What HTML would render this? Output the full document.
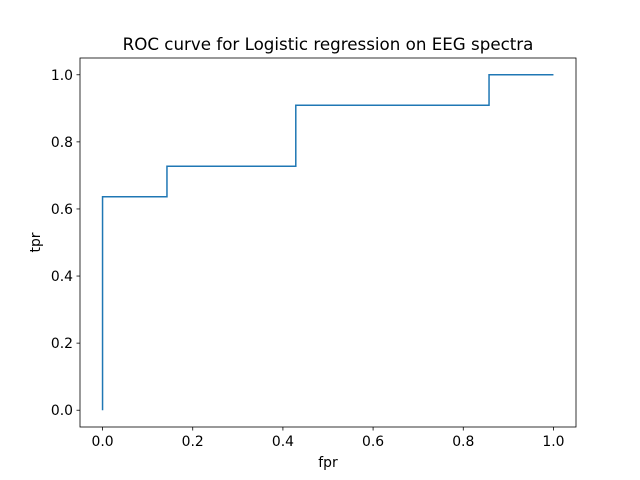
<!DOCTYPE html>
<html><head><meta charset="utf-8"><style>body{margin:0;background:#fff}svg{display:block;font-family:"DejaVu Sans","Liberation Sans",sans-serif}</style></head>
<body>
<svg id="chart" width="640" height="480"></svg>
<script>
const fpr = [0, 0, 1/7, 1/7, 3/7, 3/7, 6/7, 6/7, 1];
const tpr = [0, 7/11, 7/11, 8/11, 8/11, 10/11, 10/11, 1, 1];
const xTicks = [0, 0.2, 0.4, 0.6, 0.8, 1.0];
const yTicks = [0, 0.2, 0.4, 0.6, 0.8, 1.0];
const tickLabels = ["0.0", "0.2", "0.4", "0.6", "0.8", "1.0"];

const L=80,R=576,T=58,B=427,min=-0.05,max=1.05;
const X=v=>L+(v-min)/(max-min)*(R-L);
const Y=v=>B-(v-min)/(max-min)*(B-T);
const svg=document.getElementById('chart');
const NS='http://www.w3.org/2000/svg';
function mk(t,a,txt){const e=document.createElementNS(NS,t);for(const k in a)e.setAttribute(k,a[k]);if(txt!=null)e.textContent=txt;svg.appendChild(e);return e;}

let d='';fpr.forEach((v,i)=>{d+=(i?'L':'M')+X(v).toFixed(2)+','+Y(tpr[i]).toFixed(2);});
const line=mk('path',{d:d,fill:'none',stroke:'#1f77b4','stroke-width':1.5});



const frame=mk('rect',{x:L,y:T,width:R-L,height:B-T,fill:'none',stroke:'#000','stroke-width':0.8});



xTicks.forEach((v,i)=>{
  mk('line',{x1:X(v),x2:X(v),y1:B,y2:B+3.5,stroke:'#000','stroke-width':0.8});
  const t=mk('text',{x:X(v),y:B+19,'text-anchor':'middle','font-size':13.9},tickLabels[i]);
  
  
});
yTicks.forEach((v,i)=>{
  mk('line',{x1:L-3.5,x2:L,y1:Y(v),y2:Y(v),stroke:'#000','stroke-width':0.8});
  const t=mk('text',{x:L-7,y:Y(v)+5,'text-anchor':'end','font-size':13.9},tickLabels[i]);
  
  
});
const xt=mk('text',{x:(L+R)/2,y:467,'text-anchor':'middle','font-size':13.9},'fpr');


const yt=mk('text',{x:0,y:0,'text-anchor':'middle','font-size':13.9,transform:'translate(40,'+((T+B)/2)+') rotate(-90)'},'tpr');


const ti=mk('text',{x:(L+R)/2,y:50,'text-anchor':'middle','font-size':16.7},'ROC curve for Logistic regression on EEG spectra');


</script>
</body></html>
